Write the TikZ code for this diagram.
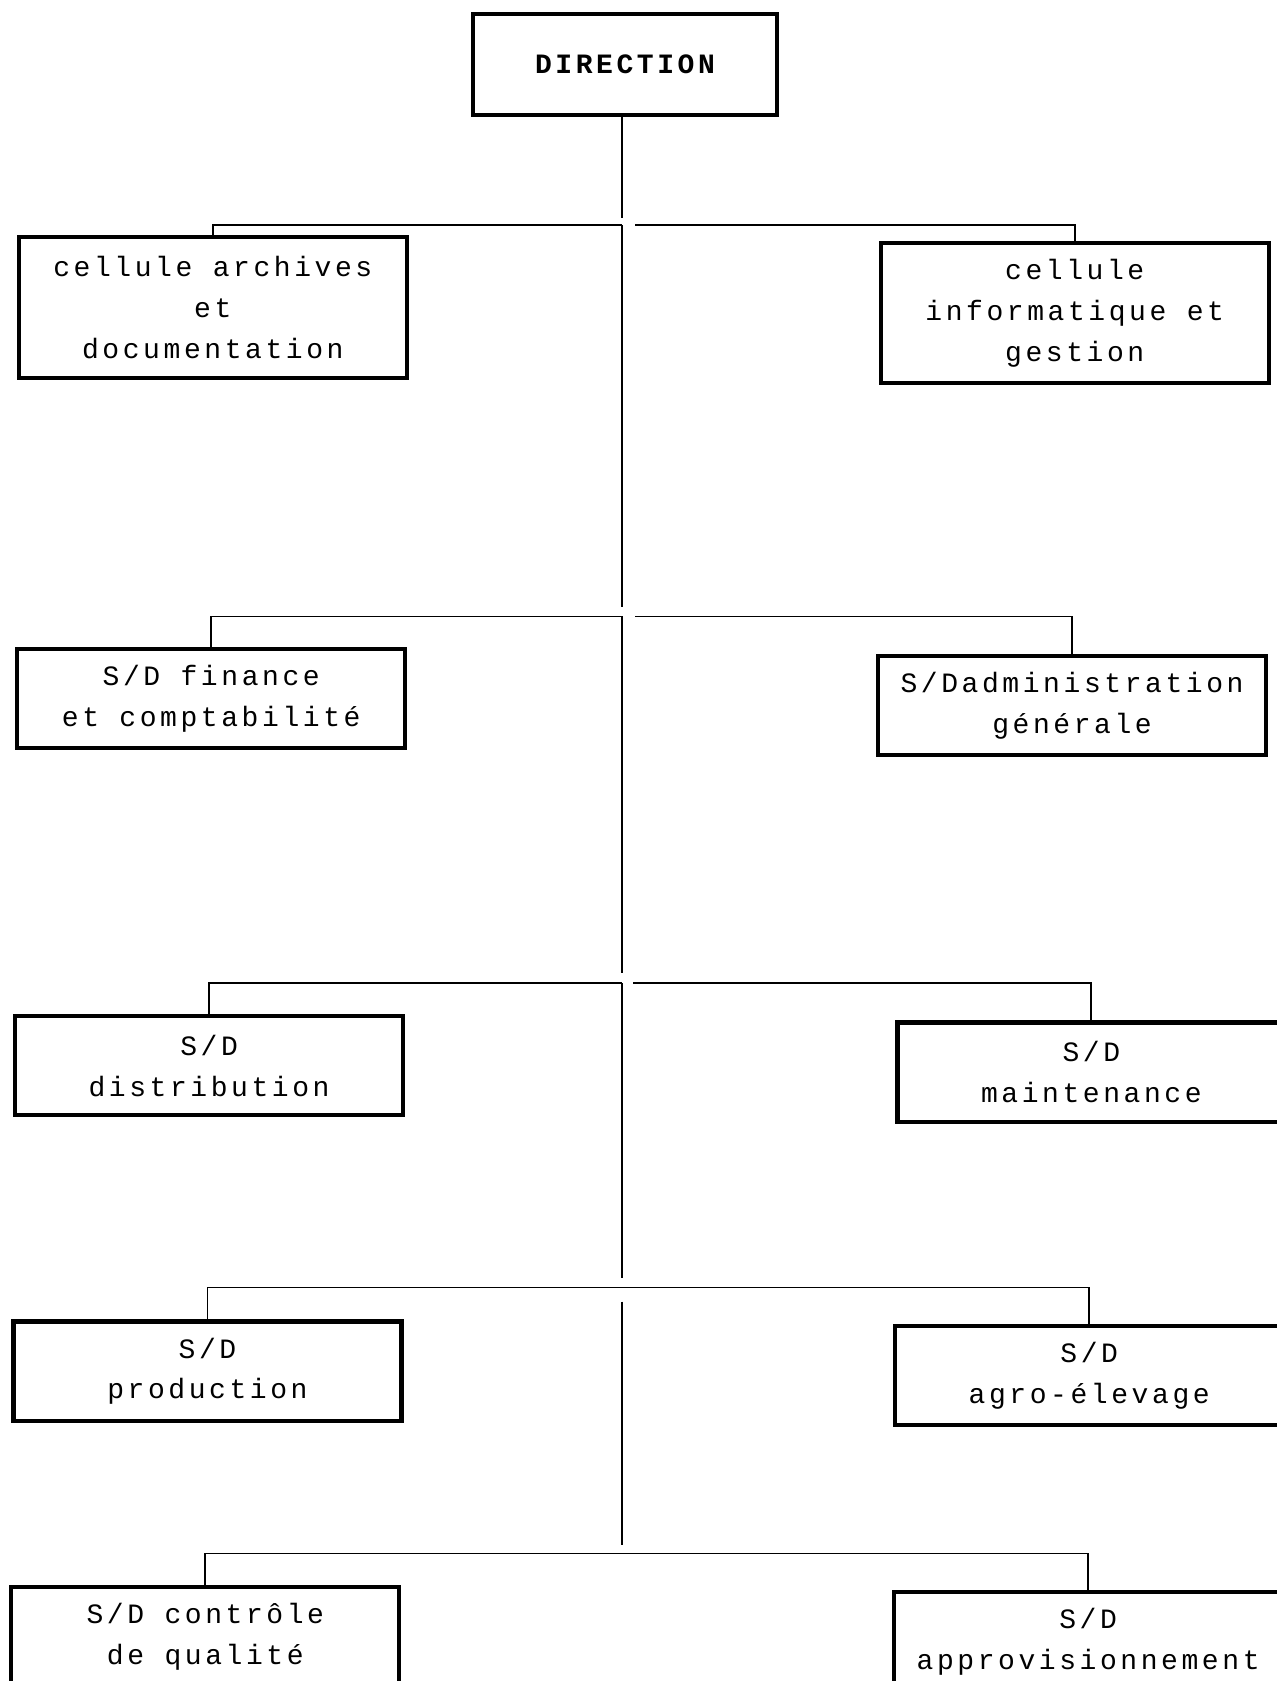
\documentclass[tikz,border=0pt]{standalone}
\usepackage{fontspec}
\newfontfamily\orgmono[LetterSpace=12.8]{Liberation Mono}
\begin{document}
\begin{tikzpicture}[x=0.53612pt,y=-0.53612pt,
  unit/.style={draw,line width=2.1pt,fill=white,inner sep=0pt,align=center,
    minimum width=194pt,minimum height=49.6pt,
    font=\orgmono\fontsize{14}{20.4}\selectfont},
  tall/.style={minimum height=70.3pt},
  link/.style={line width=0.9pt}]
\useasboundingbox (0,0) rectangle (1191,1568);

% top of the chart
\node[unit,minimum width=152.3pt,minimum height=50.4pt] (dir) at (583,60) {\bfseries DIRECTION};

% departments, left and right of the trunk
\node[unit,tall] (arch) at (198.5,287) {cellule archives\\et\\documentation};
\node[unit,tall] (info) at (1002.5,292) {cellule\\informatique et\\gestion};
\node[unit] (fin)  at (197,651.5) {S/D finance\\et comptabilité};
\node[unit] (adm)  at (1000,658)  {S/Dadministration\\générale};
\node[unit] (dist) at (195,994)   {S/D\\distribution};
\node[unit] (mnt)  at (1018,1000) {S/D\\maintenance};
\node[unit] (prod) at (193.5,1279) {S/D\\production};
\node[unit] (agro) at (1016,1283) {S/D\\agro-élevage};
\node[unit] (qual) at (191.5,1526.5) {S/D contrôle\\de qualité};
\node[unit] (appr) at (1015,1531.5) {S/D\\approvisionnement};

% junctions on the trunk
\coordinate (j1) at (580,210);
\coordinate (j2) at (580,575);
\coordinate (j3) at (580,917);
\coordinate (j4) at (580,1201);
\coordinate (j5) at (580,1449);
\coordinate (e0) at (580,203);
\coordinate (e1) at (580,566);
\coordinate (e2) at (580,908);
\coordinate (e3) at (580,1192);
\coordinate (s4) at (580,1214);
\coordinate (e4) at (580,1441);
\coordinate (r1) at (592,210);
\coordinate (r2) at (592,575);
\coordinate (r3) at (590,917);

% trunk
\draw[link] (dir.south -| e0) -- (e0);
\draw[link] (j1) -- (e1);
\draw[link] (j2) -- (e2);
\draw[link] (j3) -- (e3);
\draw[link] (s4) -- (e4);

% branches
\draw[link] (arch.north) |- (j1);
\draw[link] (info.north) |- (r1);
\draw[link] (fin.north) |- (j2);
\draw[link] (adm.north) |- (r2);
\draw[link] (dist.north) |- (j3);
\draw[link] (mnt.north) |- (r3);
\draw[link] (prod.north) |- (j4) -| (agro.north);
\draw[link] (qual.north) |- (j5) -| (appr.north);
\end{tikzpicture}
\end{document}
